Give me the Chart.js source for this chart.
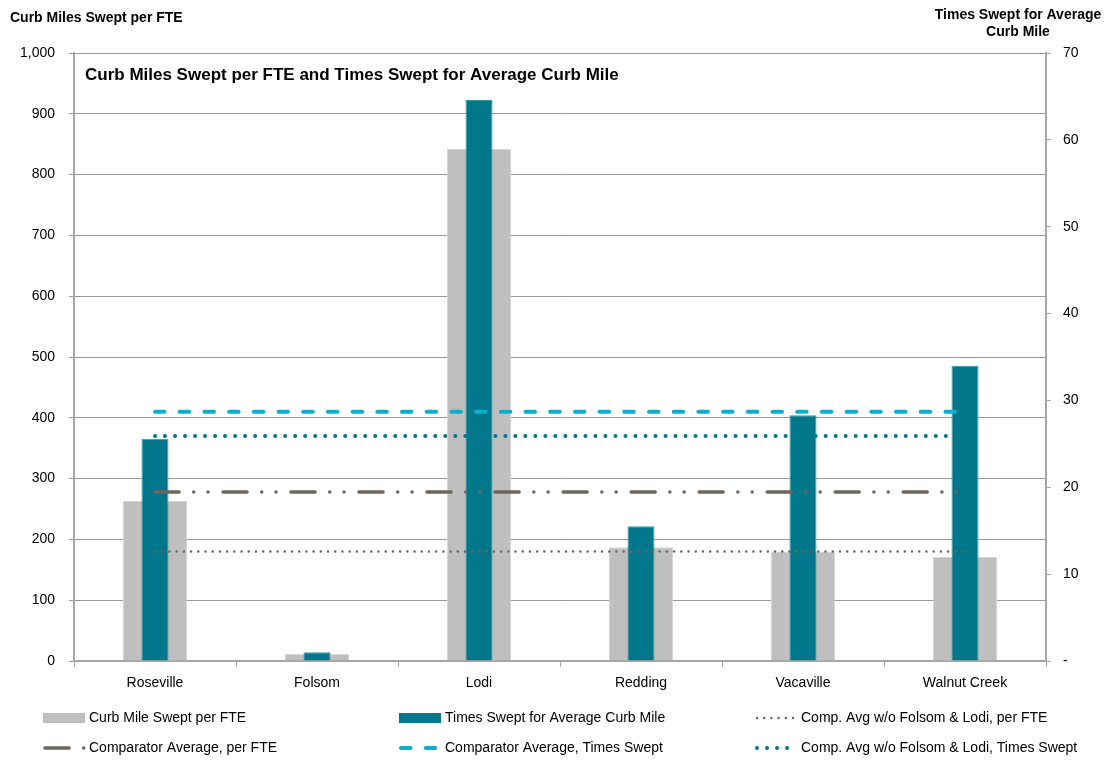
<!DOCTYPE html>
<html>
<head>
<meta charset="utf-8">
<script src="https://cdn.jsdelivr.net/npm/chart.js"></script>
<style>
  html, body { margin: 0; padding: 0; background: #fff; }
  #wrap { width: 1110px; height: 761px; }
</style>
</head>
<body>
<div id="wrap"><canvas id="sweep" width="1110" height="761"></canvas></div>
<script>
const cities = ['Roseville', 'Folsom', 'Lodi', 'Redding', 'Vacaville', 'Walnut Creek'];
const milesPerFTE = [263, 12, 842, 187, 180, 171];
const timesSwept = [25.6, 1.0, 64.6, 15.5, 28.3, 34.0];
const avgPerFTE = [278, 278, 278, 278, 278, 278];
const avgTimesSwept = [28.7, 28.7, 28.7, 28.7, 28.7, 28.7];
const avgPerFTENoFolsomLodi = [180, 180, 180, 180, 180, 180];
const avgTimesSweptNoFolsomLodi = [25.9, 25.9, 25.9, 25.9, 25.9, 25.9];

const FONT = '"Liberation Sans", Arial, sans-serif';
const GRAY_LINE = '#6e655c';
const TEAL = '#00778a';
const CYAN = '#0eadcb';

function refLine(label, data, axis, color, width, dash) {
    return {
        type: 'line', label: label, data: data, yAxisID: axis,
        borderColor: color, backgroundColor: color, borderWidth: width,
        borderDash: dash, borderCapStyle: 'round',
        pointRadius: 0, fill: false, order: 0
    };
}

// titles and the three-column legend are painted straight onto the canvas
const extras = {
    id: 'extras',
    afterDraw(chart) {
        const ctx = chart.ctx;
        ctx.save();
        ctx.fillStyle = '#000';
        ctx.textBaseline = 'middle';

        ctx.font = 'bold 14px ' + FONT;
        ctx.textAlign = 'left';
        ctx.fillText('Curb Miles Swept per FTE', 10, 18);
        ctx.textAlign = 'center';
        ctx.fillText('Times Swept for Average', 1018, 15);
        ctx.fillText('Curb Mile', 1018, 32);

        ctx.font = 'bold 17px ' + FONT;
        ctx.textAlign = 'left';
        ctx.fillText('Curb Miles Swept per FTE and Times Swept for Average Curb Mile', 85, 75);

        const colX = [43, 399, 755];
        const rowY = [718, 748];
        ctx.font = '14px ' + FONT;
        chart.data.datasets.forEach((ds, i) => {
            const x = colX[i % 3];
            const y = rowY[Math.floor(i / 3)];
            if (ds.type === 'line') {
                ctx.beginPath();
                ctx.setLineDash(ds.borderDash);
                ctx.lineCap = 'round';
                ctx.lineWidth = ds.borderWidth;
                ctx.strokeStyle = ds.borderColor;
                ctx.moveTo(x + 2, y);
                ctx.lineTo(x + 42, y);
                ctx.stroke();
                ctx.setLineDash([]);
            } else {
                ctx.fillStyle = ds.backgroundColor;
                ctx.fillRect(x, y - 5, 42, 10);
            }
            ctx.fillStyle = '#000';
            ctx.textAlign = 'left';
            ctx.fillText(ds.label, x + 46, y);
        });
        ctx.restore();
    }
};

new Chart(document.getElementById('sweep'), {
    type: 'bar',
    data: {
        labels: cities,
        datasets: [
            {
                label: 'Curb Mile Swept per FTE', data: milesPerFTE, yAxisID: 'y',
                backgroundColor: '#bfbfbf', borderColor: '#d6d6d6', borderWidth: 1,
                grouped: false, categoryPercentage: 1, barPercentage: 0.395, order: 2
            },
            {
                label: 'Times Swept for Average Curb Mile', data: timesSwept, yAxisID: 'y1',
                backgroundColor: TEAL, borderColor: '#3c97a5', borderWidth: 1,
                grouped: false, categoryPercentage: 1, barPercentage: 0.167, order: 1
            },
            refLine('Comp. Avg w/o Folsom & Lodi, per FTE', avgPerFTENoFolsomLodi, 'y', GRAY_LINE, 2.5, [0.01, 7.2]),
            refLine('Comparator Average, per FTE', avgPerFTE, 'y', GRAY_LINE, 3.5, [24, 14.7, 0.01, 14.3, 0.01, 15]),
            refLine('Comparator Average, Times Swept', avgTimesSwept, 'y1', CYAN, 4, [9.5, 15.2]),
            refLine('Comp. Avg w/o Folsom & Lodi, Times Swept', avgTimesSweptNoFolsomLodi, 'y1', TEAL, 4, [0.01, 10])
        ]
    },
    options: {
        responsive: false,
        animation: false,
        layout: { padding: { top: 53, left: 0, right: 0, bottom: 0 } },
        plugins: { legend: { display: false }, tooltip: { enabled: false } },
        scales: {
            x: {
                offset: true,
                grid: { offset: true, drawOnChartArea: false, tickLength: 6, color: '#a6a6a6' },
                border: { color: '#a6a6a6', width: 2 },
                ticks: { color: '#000', font: { family: FONT, size: 14 }, padding: 8 },
                afterFit: s => { s.height = 100; }
            },
            y: {
                position: 'left', min: 0, max: 1000,
                grid: { color: '#999', lineWidth: 1, tickLength: 5 },
                border: { color: '#a6a6a6', width: 2 },
                ticks: {
                    stepSize: 100, color: '#000', padding: 14,
                    font: { family: FONT, size: 14 },
                    callback: v => v.toLocaleString('en-US')
                },
                afterFit: s => { s.width = 74; }
            },
            y1: {
                position: 'right', min: 0, max: 70,
                grid: { drawOnChartArea: false, color: '#a6a6a6', tickLength: 5 },
                border: { color: '#a6a6a6', width: 2 },
                ticks: {
                    stepSize: 10, color: '#000', padding: 12,
                    font: { family: FONT, size: 14 },
                    callback: v => (v === 0 ? '-' : v)
                },
                afterFit: s => { s.width = 64; }
            }
        }
    },
    plugins: [extras]
});
</script>
</body>
</html>
